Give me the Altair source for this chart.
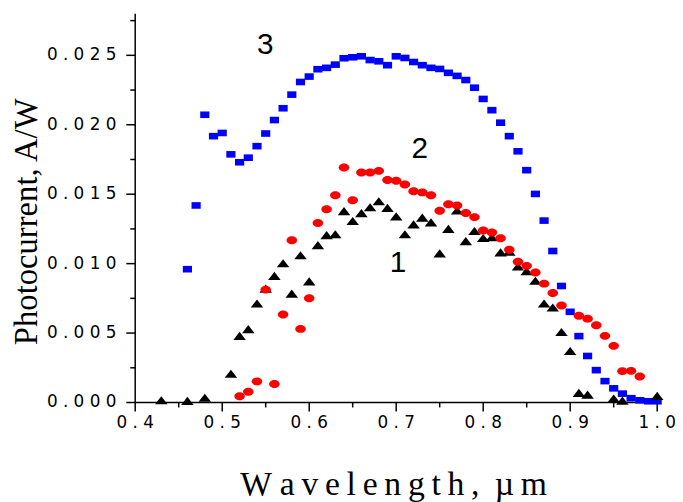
import altair as alt
import pandas as pd

# ---- data ----
wl_blue = [0.46, 0.47, 0.48, 0.49, 0.50, 0.51, 0.52, 0.53, 0.54, 0.55, 0.56, 0.57, 0.58, 0.59,
           0.60, 0.61, 0.62, 0.63, 0.64, 0.65, 0.66, 0.67, 0.68, 0.69, 0.70, 0.71, 0.72, 0.73,
           0.74, 0.75, 0.76, 0.77, 0.78, 0.79, 0.80, 0.81, 0.82, 0.83, 0.84, 0.85, 0.86, 0.87,
           0.88, 0.89, 0.90, 0.91, 0.92, 0.93, 0.94, 0.95, 0.96, 0.97, 0.98, 0.99, 1.00]
pc_blue = [0.00960, 0.01419, 0.02072, 0.01918, 0.01941, 0.01787, 0.01730, 0.01763, 0.01846, 0.01937,
           0.02034, 0.02119, 0.02217, 0.02308, 0.02347, 0.02400, 0.02410, 0.02433, 0.02479, 0.02486,
           0.02493, 0.02466, 0.02457, 0.02429, 0.02493, 0.02481, 0.02452, 0.02429, 0.02410, 0.02402,
           0.02374, 0.02352, 0.02322, 0.02267, 0.02186, 0.02105, 0.02015, 0.01918, 0.01809, 0.01673,
           0.01502, 0.01310, 0.01091, 0.00839, 0.00653, 0.00478, 0.00335, 0.00233, 0.00154, 0.00102,
           0.00064, 0.00031, 0.00016, 0.00009, 0.00009]

wl_red = [0.52, 0.53, 0.54, 0.55, 0.56, 0.57, 0.58, 0.59, 0.60, 0.61, 0.62, 0.63, 0.64, 0.65,
          0.66, 0.67, 0.68, 0.69, 0.70, 0.71, 0.72, 0.73, 0.74, 0.75, 0.76, 0.77, 0.78, 0.79,
          0.80, 0.81, 0.82, 0.83, 0.84, 0.85, 0.86, 0.87, 0.88, 0.89, 0.91, 0.92, 0.93, 0.94,
          0.95, 0.96, 0.97, 0.98]
pc_red = [0.00045, 0.00078, 0.00152, 0.00813, 0.00133, 0.00634, 0.01169, 0.00530, 0.00751, 0.01292,
          0.01392, 0.01492, 0.01692, 0.01456, 0.01656, 0.01656, 0.01668, 0.01602, 0.01597, 0.01570,
          0.01521, 0.01513, 0.01492, 0.01381, 0.01428, 0.01419, 0.01364, 0.01335, 0.01238, 0.01224,
          0.01183, 0.01100, 0.01014, 0.00984, 0.00936, 0.00856, 0.00789, 0.00699, 0.00625, 0.00604,
          0.00556, 0.00480, 0.00408, 0.00226, 0.00228, 0.00187]

wl_black = [0.43, 0.46, 0.48, 0.51, 0.52, 0.53, 0.54, 0.55, 0.56, 0.57, 0.58, 0.59, 0.60, 0.61,
            0.62, 0.63, 0.64, 0.65, 0.66, 0.67, 0.68, 0.69, 0.70, 0.71, 0.72, 0.73, 0.74, 0.75,
            0.76, 0.77, 0.78, 0.79, 0.80, 0.81, 0.82, 0.83, 0.84, 0.85, 0.86, 0.87, 0.88, 0.89,
            0.90, 0.91, 0.92, 0.95, 0.96, 1.00]
pc_black = [0.00016, 0.00012, 0.00034, 0.00207, 0.00480, 0.00528, 0.00713, 0.00820, 0.00912, 0.01003,
            0.00784, 0.01060, 0.00872, 0.01133, 0.01205, 0.01212, 0.01378, 0.01307, 0.01364, 0.01406,
            0.01449, 0.01402, 0.01340, 0.01212, 0.01283, 0.01331, 0.01297, 0.01074, 0.01250, 0.01383,
            0.01162, 0.01235, 0.01185, 0.01190, 0.01081, 0.01086, 0.00979, 0.00946, 0.00877, 0.00713,
            0.00684, 0.00508, 0.00371, 0.00069, 0.00057, 0.00029, 0.00014, 0.00048]

curve_labels = ["3", "2", "1"]
label_wl = [0.5496, 0.7271, 0.7020]
label_pc = [0.02511, 0.01761, 0.00943]

x_major = [0.4, 0.5, 0.6, 0.7, 0.8, 0.9, 1.0]
x_minor = [0.45, 0.55, 0.65, 0.75, 0.85, 0.95]
y_major = [0.0, 0.005, 0.010, 0.015, 0.020, 0.025]
y_minor = [0.0025, 0.0075, 0.0125, 0.0175, 0.0225, 0.0275]

TS = "\u2009"  # thin space
x_title = "W a" + TS + "v" + TS + "e" + TS + "l" + TS + "e" + TS + "n" + TS + "g" + TS + "t" + TS + "h" + TS + ", " + TS + "\u00b5" + TS + "m"
y_title = "Photocurrent, A/W"

blue_df = pd.DataFrame({"wl": wl_blue, "pc": pc_blue})
red_df = pd.DataFrame({"wl": wl_red, "pc": pc_red})
black_df = pd.DataFrame({"wl": wl_black, "pc": pc_black})
lab_df = pd.DataFrame({"wl": label_wl, "pc": label_pc, "t": curve_labels})
xlab_df = pd.DataFrame({"v": x_major, "t": [" ".join(f"{v:.1f}") for v in x_major]})
ylab_df = pd.DataFrame({"v": y_major, "t": [" ".join(f"{v:.3f}") for v in y_major]})

W, H = 527.3, 392.8
MAJOR_LEN, MINOR_LEN = 9, 5
LABEL_FONT = "DejaVu Sans"
TITLE_FONT = "Liberation Serif"

xs = alt.Scale(domain=[0.4, 1.0], nice=False, zero=False)
ys = alt.Scale(domain=[0.0, 0.028], nice=False, zero=False)

SQUARE = "M-1,-0.72L1,-0.72L1,0.72L-1,0.72Z"
ELLIPSE = "M-1,0A1,0.75,0,1,1,1,0A1,0.75,0,1,1,-1,0Z"
TRIANGLE = "M-1,0.65L1,0.65L0,-0.65Z"

one = pd.DataFrame({"d": [0]})

# axis lines
x_domain = alt.Chart(one).mark_rule(color="black", strokeWidth=1.5).encode(
    x=alt.value(0), x2=alt.value(W), y=alt.value(H))
y_domain = alt.Chart(one).mark_rule(color="black", strokeWidth=1.5).encode(
    x=alt.value(0), y=alt.value(0), y2=alt.value(H))


# tick marks at the axis values (scale positions), drawn as thin filled ticks outward from the axes
def xticks(vals, length):
    return alt.Chart(pd.DataFrame({"v": vals})).mark_tick(
        orient="vertical", size=length, thickness=1.5, color="black", opacity=1, filled=True
    ).encode(
        x=alt.X("v:Q", scale=xs, axis=None),
        y=alt.value(H + length / 2),
    )


def yticks(vals, length):
    return alt.Chart(pd.DataFrame({"v": vals})).mark_tick(
        orient="horizontal", size=length, thickness=1.5, color="black", opacity=1, filled=True
    ).encode(
        y=alt.Y("v:Q", scale=ys, axis=None),
        x=alt.value(-length / 2),
    )


# tick labels
x_labels = alt.Chart(xlab_df).mark_text(font=LABEL_FONT, fontSize=17, color="black", align="center", baseline="top").encode(
    x=alt.X("v:Q", scale=xs, axis=None),
    y=alt.value(H + MAJOR_LEN + 4),
    text="t:N",
)
y_labels = alt.Chart(ylab_df).mark_text(font=LABEL_FONT, fontSize=17, color="black", align="right", baseline="middle").encode(
    y=alt.Y("v:Q", scale=ys, axis=None),
    x=alt.value(-(MAJOR_LEN + 10)),
    text="t:N",
)

# axis titles
x_title_mark = alt.Chart(pd.DataFrame({"t": [x_title]})).mark_text(
    font=TITLE_FONT, fontSize=34, color="black", align="center", baseline="alphabetic").encode(
    x=alt.value(261), y=alt.value(H + 93), text="t:N")
y_title_mark = alt.Chart(pd.DataFrame({"t": [y_title]})).mark_text(
    font=TITLE_FONT, fontSize=33, color="black", align="center", baseline="alphabetic", angle=270).encode(
    x=alt.value(-99.2), y=alt.value(210.3), text="t:N")

blue = alt.Chart(blue_df).mark_point(shape=SQUARE, size=86, filled=True, color="#0000ff", opacity=1, strokeWidth=0).encode(
    x=alt.X("wl:Q", scale=xs, axis=None),
    y=alt.Y("pc:Q", scale=ys, axis=None),
)
black = alt.Chart(black_df).mark_point(shape=TRIANGLE, size=160, filled=True, color="#000000", opacity=1, strokeWidth=0).encode(
    x=alt.X("wl:Q", scale=xs, axis=None),
    y=alt.Y("pc:Q", scale=ys, axis=None),
)
red = alt.Chart(red_df).mark_point(shape=ELLIPSE, size=114, filled=True, color="#ff0000", opacity=1, strokeWidth=0).encode(
    x=alt.X("wl:Q", scale=xs, axis=None),
    y=alt.Y("pc:Q", scale=ys, axis=None),
)
labels = alt.Chart(lab_df).mark_text(font="Liberation Sans", fontSize=30, color="black", align="center", baseline="alphabetic").encode(
    x=alt.X("wl:Q", scale=xs, axis=None),
    y=alt.Y("pc:Q", scale=ys, axis=None),
    text="t:N",
)

chart = alt.layer(
    x_domain, y_domain,
    xticks(x_major, MAJOR_LEN), xticks(x_minor, MINOR_LEN),
    yticks(y_major, MAJOR_LEN), yticks(y_minor, MINOR_LEN),
    x_labels, y_labels, x_title_mark, y_title_mark,
    blue, black, red, labels,
).properties(
    width=W,
    height=H,
    autosize=alt.AutoSizeParams(type="none"),
    padding={"left": 128.5, "top": 3.2, "right": 18, "bottom": 100},
    background="white",
).configure_view(stroke=None)

chart.save("out.html", embed_options={"renderer": "svg", "actions": False})
